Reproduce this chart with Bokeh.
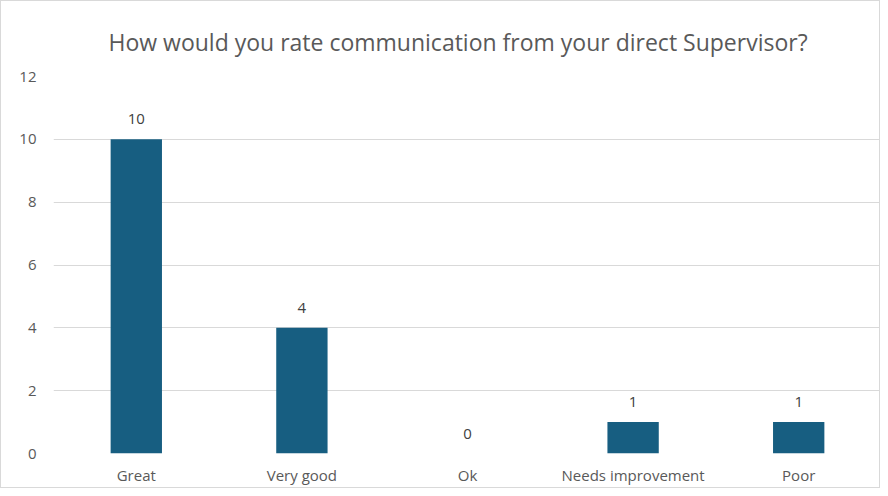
from bokeh.plotting import figure
from bokeh.models import ColumnDataSource, Range1d, FixedTicker
from bokeh.core.properties import value
from bokeh.embed import file_html
from bokeh.resources import INLINE

categories = ["Great", "Very good", "Ok", "Needs improvement", "Poor"]
counts = [10, 4, 0, 1, 1]
y_ticks = [0, 2, 4, 6, 8, 10, 12]
title_text = "How would you rate communication from your direct Supervisor?"

FONT = "Open Sans"
src = ColumnDataSource(dict(cat=categories, val=counts, lab=[str(v) for v in counts]))

p = figure(x_range=categories, y_range=Range1d(0, 12), width=880, height=488,
           output_backend="svg", toolbar_location=None,
           min_border_left=52, min_border_right=0, min_border_top=75, min_border_bottom=36,
           title=title_text)
p.title.align = "left"
p.title.offset = 55
p.title.text_font = FONT
p.title.text_font_size = "23px"
p.title.text_font_style = "normal"
p.title.text_color = "#595959"
p.title.standoff = 38

p.vbar(x="cat", top="val", width=0.31, source=src, color="#175E81", line_color=None)
p.text(x="cat", y="val", text="lab", source=src, y_offset=-15,
       text_align="center", text_baseline="bottom",
       text_font=value(FONT), text_font_size="15px", text_color="#404040")

p.outline_line_color = None
p.xgrid.grid_line_color = None
p.ygrid.grid_line_color = "#D9D9D9"
p.ygrid.grid_line_width = 1
p.yaxis.ticker = FixedTicker(ticks=y_ticks)
for ax in (p.xaxis, p.yaxis):
    ax.axis_line_color = None
    ax.major_tick_line_color = None
    ax.minor_tick_line_color = None
    ax.major_tick_out = 0
    ax.major_tick_in = 0
    ax.major_label_text_font = FONT
    ax.major_label_text_font_size = "15px"
    ax.major_label_text_color = "#595959"
p.yaxis.major_label_standoff = 17
p.xaxis.major_label_standoff = 11
p.x_range.range_padding = 0
p.styles = {"border": "1px solid #D9D9D9"}

open("out.html", "w").write(file_html(p, INLINE))
